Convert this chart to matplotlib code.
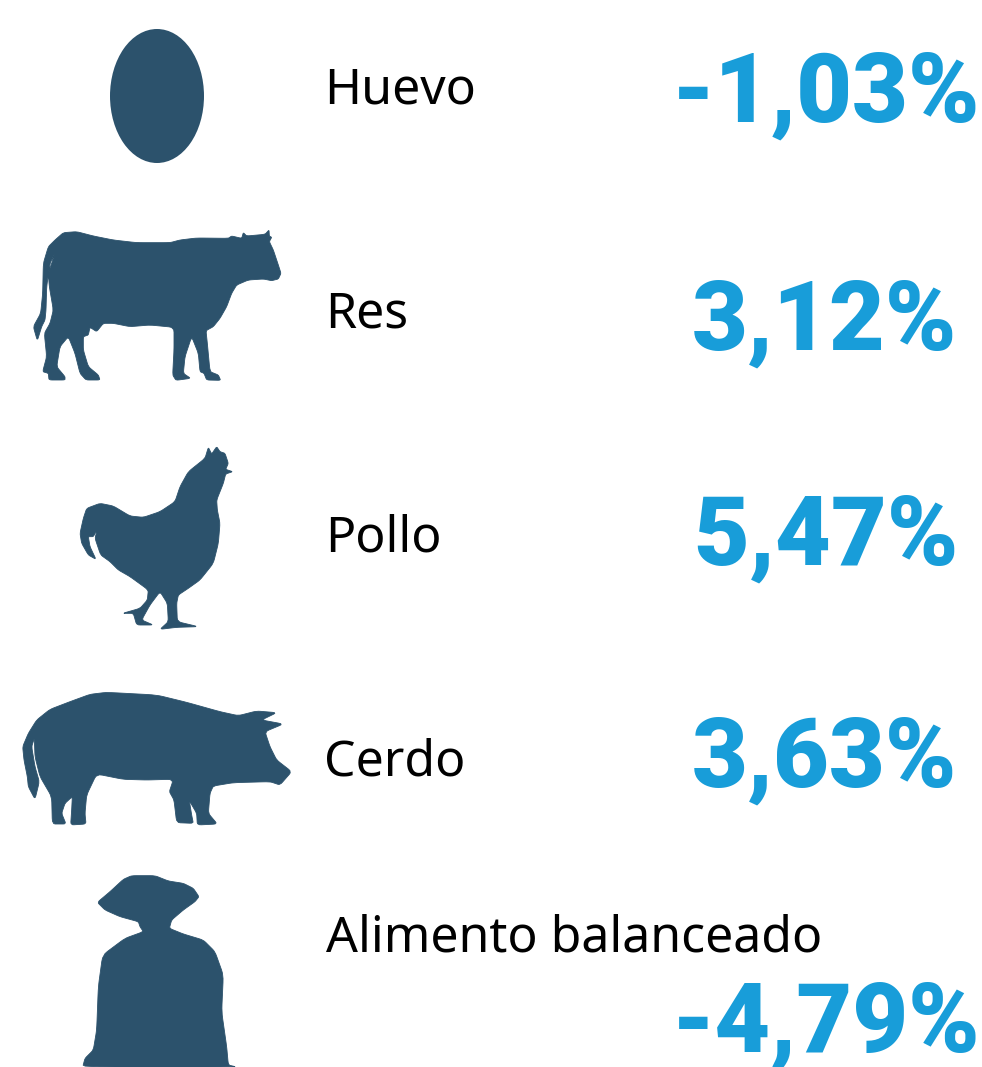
import matplotlib
matplotlib.use('Agg')
import matplotlib.pyplot as plt
from matplotlib.patches import Ellipse, Polygon

# categories and the percentage changes next to them
categories = ['Huevo', 'Res', 'Pollo', 'Cerdo', 'Alimento balanceado']
values = [-1.03, 3.12, 5.47, 3.63, -4.79]

navy = '#2c526c'
blue = '#189dd9'

# text anchors in pixels
label_x = [324, 325, 325, 324, 326]
label_y = [103, 327, 551, 775, 952]
value_x = [826, 825, 826, 825, 826]
value_y = [122, 350, 565, 787, 1052]

# icon outlines, pixel coordinates from 3x crops
cow = [(165,90),(190,68),(230,65),(280,78),(340,90),(410,98),(510,98),(540,90),(590,84),(685,85),(695,78),(725,85),(730,68),(740,78),(795,73),(807,60),(808,78),(815,82),(808,95),(820,120),(835,165),(843,190),(835,207),(815,212),(790,207),(745,210),(710,225),(695,250),(680,290),(660,325),(640,350),(618,362),(622,400),(630,485),(655,495),(662,511),(620,510),(612,490),(600,485),(595,430),(575,380),(555,440),(550,490),(572,505),(528,511),(518,495),(522,420),(522,352),(450,345),(390,350),(340,340),(310,340),(290,365),(270,352),(265,375),(250,380),(250,420),(265,470),(295,495),(300,510),(258,510),(240,490),(225,430),(205,380),(180,410),(170,470),(195,500),(195,510),(147,510),(145,490),(128,485),(140,440),(133,370),(150,340),(160,300),(148,230),(145,190),(165,130),(150,160),(140,230),(138,300),(135,330),(125,350),(112,392),(100,350),(122,310),(128,250),(130,160),(145,110)]
hen = [(435,85),(445,52),(455,72),(470,50),(480,65),(495,70),(505,100),(497,118),(518,125),(497,132),(490,160),(470,210),(472,240),(480,280),(475,340),(460,400),(420,450),(385,475),(355,495),(350,520),(352,575),(415,590),(350,592),(300,598),(325,575),(322,520),(300,485),(270,525),(245,570),(280,585),(230,585),(220,550),(188,550),(240,535),(262,510),(265,480),(210,440),(175,420),(150,395),(122,375),(105,325),(112,298),(100,320),(85,320),(90,350),(108,388),(85,375),(65,340),(60,310),(70,265),(80,235),(120,220),(160,228),(210,258),(250,262),(300,245),(345,215),(360,170),(385,125)]
pig = [(68,230),(85,190),(110,150),(150,118),(210,95),(270,73),(320,67),(470,75),(560,97),(660,125),(715,137),(770,123),(830,128),(785,150),(850,162),(795,185),(810,230),(830,270),(875,305),(840,345),(810,335),(700,338),(640,348),(630,370),(625,430),(652,462),(592,465),(590,430),(568,392),(575,435),(580,460),(530,458),(522,390),(508,365),(518,335),(510,328),(440,330),(370,328),(290,312),(260,375),(255,430),(258,462),(212,465),(215,420),(217,380),(195,400),(185,430),(198,462),(157,462),(155,380),(120,320),(105,260),(103,205),(95,230),(105,290),(118,335),(105,388),(85,350),(82,320),(72,270)]
sack = [(112,127),(150,95),(190,58),(215,47),(285,47),(325,63),(370,70),(400,85),(417,110),(405,125),(370,150),(335,180),(328,205),(370,222),(430,240),(465,275),(490,345),(485,455),(500,560),(505,615),(530,621),(68,621),(75,595),(100,570),(110,510),(115,380),(128,285),(195,235),(250,215),(240,200),(235,185),(180,170),(135,150)]


# round the corners a little so the outlines look less like polygons
def smooth(points, rounds=2, cut=0.12):
    for r in range(rounds):
        new = []
        for i in range(len(points)):
            x0, y0 = points[i]
            x1, y1 = points[(i + 1) % len(points)]
            new.append((x0 + cut * (x1 - x0), y0 + cut * (y1 - y0)))
            new.append((x1 - cut * (x1 - x0), y1 - cut * (y1 - y0)))
        points = new
    return points


def icon(points, x0, y0):
    pts = smooth(points)
    return Polygon([(x / 3 + x0, y / 3 + y0) for x, y in pts], closed=True,
                   facecolor=navy, edgecolor=navy, lw=0.6, joinstyle='round')


fig = plt.figure(figsize=(9.82, 10.67), dpi=100)
ax = fig.add_axes([0, 0, 1, 1])
ax.set_xlim(0, 982)
ax.set_ylim(1067, 0)
ax.axis('off')

ax.add_patch(Ellipse((157, 96), 94, 134, facecolor=navy, edgecolor='none'))
ax.add_patch(icon(cow, 0, 210))
ax.add_patch(icon(hen, 60, 430))
ax.add_patch(icon(pig, 0, 670))
ax.add_patch(icon(sack, 60, 860))

for name, val, lx, ly, vx, vy in zip(categories, values, label_x, label_y, value_x, value_y):
    ax.text(lx, ly, name, fontsize=36, family='Noto Sans', color='black',
            ha='left', va='baseline')
    txt = ('%.2f%%' % abs(val)).replace('.', ',')
    if val < 0:
        txt = '-' + txt
    ax.text(vx, vy, txt, fontsize=69.5, family='Roboto', weight='black', color=blue,
            ha='center', va='baseline')

fig.savefig('out.png', dpi=100)
